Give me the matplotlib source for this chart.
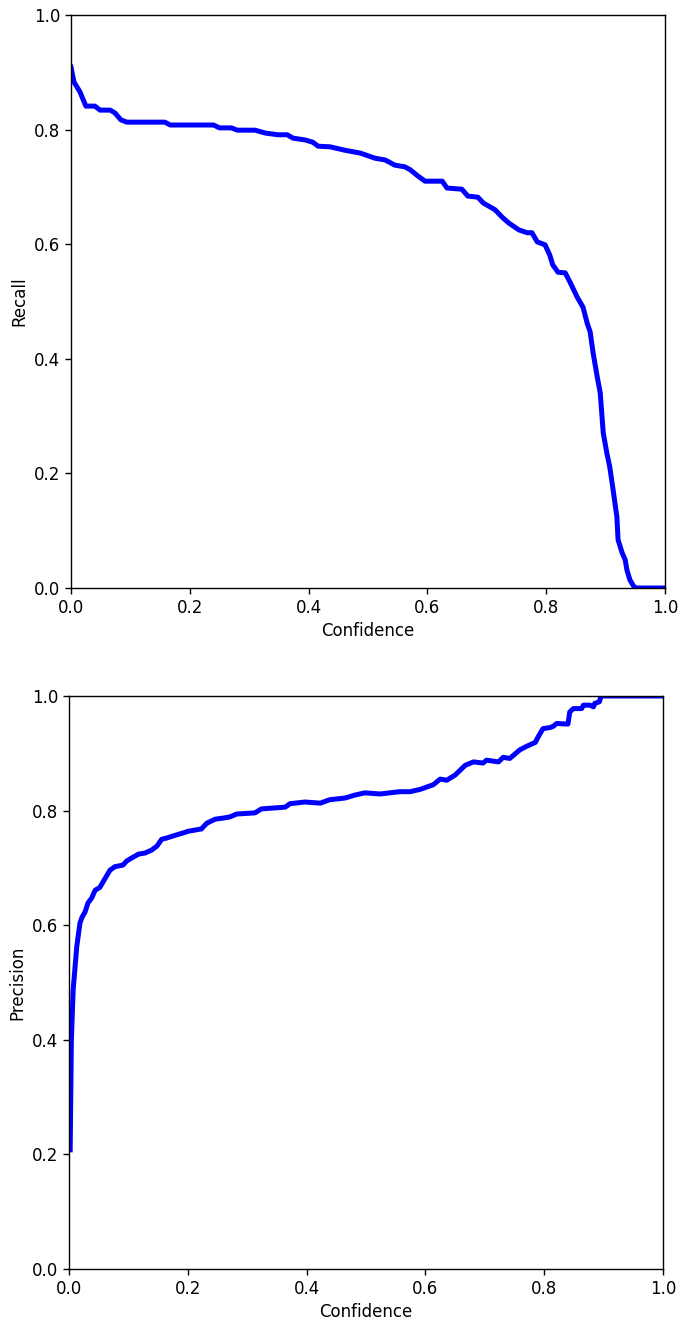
import matplotlib
matplotlib.use("Agg")
import matplotlib.pyplot as plt

# Recall vs confidence
recall_conf = [0.0, 0.005, 0.015, 0.025, 0.04, 0.049, 0.066, 0.074, 0.084, 0.094, 0.158, 0.167,
               0.24, 0.25, 0.27, 0.28, 0.31, 0.327, 0.348, 0.364, 0.374, 0.394, 0.407, 0.416,
               0.436, 0.461, 0.487, 0.512, 0.529, 0.545, 0.562, 0.571, 0.584, 0.596, 0.625,
               0.633, 0.658, 0.668, 0.685, 0.694, 0.714, 0.726, 0.737, 0.754, 0.768, 0.776,
               0.785, 0.798, 0.806, 0.811, 0.820, 0.832, 0.840, 0.852, 0.862, 0.869, 0.874,
               0.879, 0.886, 0.891, 0.896, 0.902, 0.907, 0.912, 0.919, 0.921, 0.928, 0.933,
               0.936, 0.941, 0.948, 0.95, 1.0]
recall_vals = [0.909, 0.883, 0.866, 0.841, 0.841, 0.834, 0.834, 0.829, 0.817, 0.813, 0.813, 0.808,
               0.808, 0.803, 0.803, 0.799, 0.799, 0.794, 0.791, 0.791, 0.785, 0.782, 0.778, 0.771,
               0.770, 0.764, 0.759, 0.750, 0.747, 0.738, 0.735, 0.730, 0.719, 0.710, 0.710,
               0.698, 0.696, 0.684, 0.682, 0.672, 0.660, 0.647, 0.637, 0.625, 0.620, 0.620,
               0.604, 0.599, 0.581, 0.564, 0.551, 0.550, 0.534, 0.508, 0.490, 0.462, 0.447,
               0.410, 0.368, 0.340, 0.271, 0.236, 0.211, 0.176, 0.124, 0.084, 0.061, 0.049,
               0.031, 0.014, 0.002, 0.0, 0.0]

# Precision vs confidence
prec_conf = [0.002, 0.004, 0.007, 0.013, 0.0185, 0.022, 0.027, 0.032, 0.038, 0.044, 0.052, 0.061,
             0.069, 0.077, 0.091, 0.097, 0.105, 0.117, 0.128, 0.139, 0.148, 0.156, 0.164, 0.176,
             0.192, 0.201, 0.223, 0.232, 0.246, 0.260, 0.271, 0.282, 0.313, 0.324, 0.364, 0.372,
             0.397, 0.423, 0.439, 0.465, 0.481, 0.498, 0.524, 0.540, 0.557, 0.574, 0.591, 0.613,
             0.625, 0.636, 0.650, 0.661, 0.667, 0.681, 0.697, 0.703, 0.723, 0.731, 0.742, 0.759,
             0.770, 0.785, 0.790, 0.798, 0.810, 0.815, 0.821, 0.840, 0.843, 0.849, 0.863, 0.866,
             0.877, 0.883, 0.885, 0.893, 0.895, 0.896, 1.0]
prec_vals = [0.208, 0.40, 0.487, 0.562, 0.604, 0.614, 0.623, 0.639, 0.647, 0.661, 0.666, 0.682,
             0.696, 0.702, 0.705, 0.712, 0.717, 0.724, 0.726, 0.731, 0.738, 0.750, 0.752, 0.756,
             0.761, 0.764, 0.768, 0.778, 0.785, 0.787, 0.789, 0.794, 0.796, 0.803, 0.806, 0.812,
             0.815, 0.813, 0.819, 0.822, 0.827, 0.831, 0.829, 0.831, 0.833, 0.833, 0.837, 0.845,
             0.855, 0.853, 0.862, 0.873, 0.879, 0.885, 0.883, 0.888, 0.885, 0.893, 0.891, 0.906,
             0.912, 0.919, 0.929, 0.943, 0.945, 0.947, 0.952, 0.951, 0.972, 0.978, 0.978, 0.984,
             0.984, 0.981, 0.987, 0.990, 0.998, 1.0, 1.0]

ticks = [0.0, 0.2, 0.4, 0.6, 0.8, 1.0]

plt.rcParams['font.family'] = ['DejaVu Sans']
fig = plt.figure(figsize=(6.81, 13.21), dpi=100)
ax1 = fig.add_axes([71/681, 1-588/1321, 594/681, 573/1321])
ax2 = fig.add_axes([69/681, 1-1269/1321, 594/681, 573/1321])

for ax, xs, ys, lab in [(ax1, recall_conf, recall_vals, 'Recall'),
                        (ax2, prec_conf, prec_vals, 'Precision')]:
    ax.plot(xs, ys, color='blue', linewidth=3.6)
    ax.set_xlim(0, 1)
    ax.set_ylim(0, 1)
    ax.set_xticks(ticks)
    ax.set_yticks(ticks)
    ax.set_xticklabels([f"{t:.1f}" for t in ticks])
    ax.set_yticklabels([f"{t:.1f}" for t in ticks])
    ax.tick_params(labelsize=12, length=4.2, width=1.0)
    ax.set_xlabel('Confidence', fontsize=12, labelpad=4)
    ax.set_ylabel(lab, fontsize=12, labelpad=4)
    for s in ax.spines.values():
        s.set_linewidth(1.0)

fig.savefig('out.png', dpi=100)
